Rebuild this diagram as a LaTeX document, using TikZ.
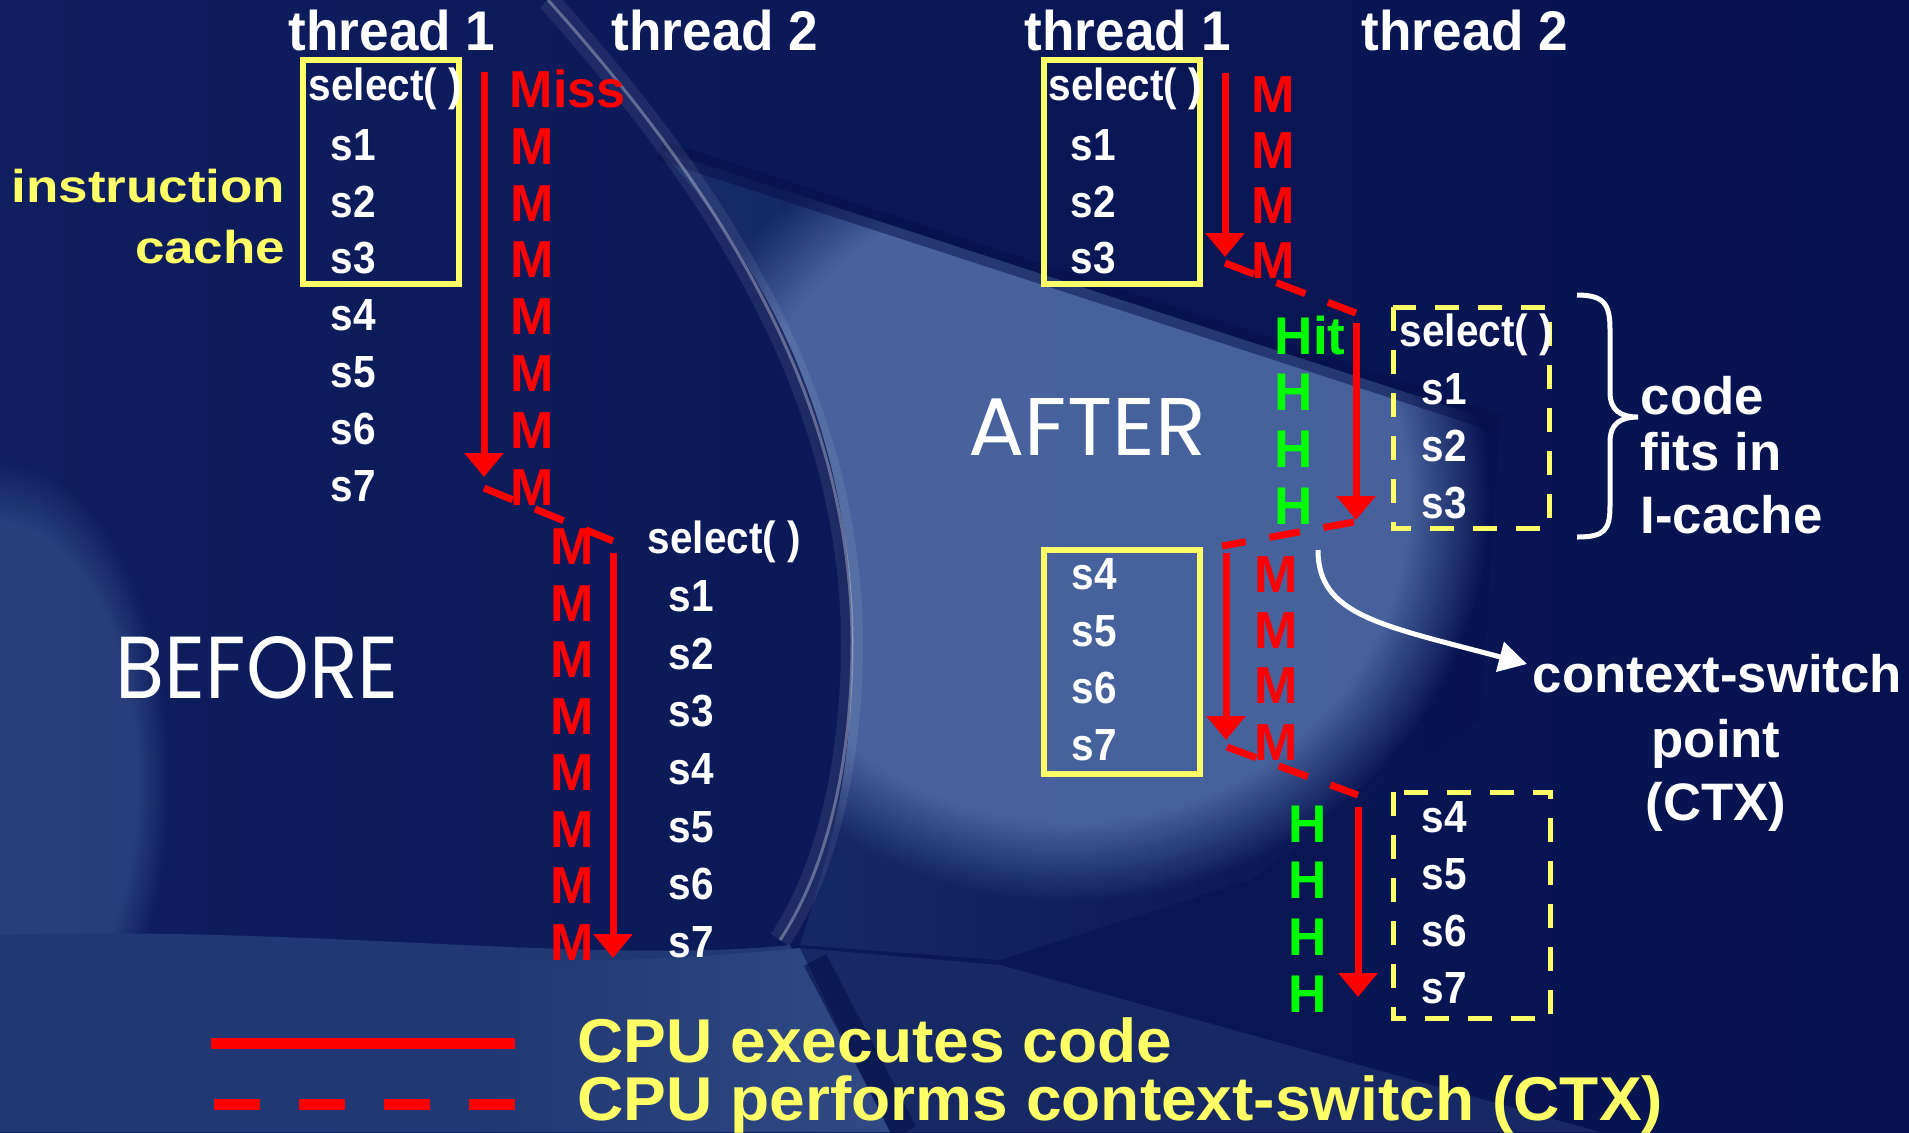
\documentclass[tikz,border=0pt]{standalone}
\usepackage{fontspec}
\usepackage{graphicx}
\setmainfont{Liberation Sans}
\newfontfamily\comicf{Poppins}
\usetikzlibrary{arrows.meta,fadings}
\definecolor{bgL}{HTML}{0E1E5E}
\definecolor{bgR}{HTML}{061250}
\definecolor{lightB}{HTML}{4A66A0}
\definecolor{midB}{HTML}{203874}
\definecolor{slabB}{HTML}{2F4A84}
\definecolor{darkB}{HTML}{061048}
\definecolor{ylw}{HTML}{FFFF66}
\definecolor{rd}{HTML}{FF0000}
\definecolor{grn}{HTML}{00FF00}
\newcommand\stS[1]{\scalebox{0.9}[1]{#1}}
\newcommand\thS[1]{\scalebox{0.95}[1]{#1}}
\newcommand\icS[1]{\scalebox{1.15}[1]{#1}}
\newcommand\lgS[1]{\scalebox{1.035}[1]{#1}}
\begin{document}
\begin{tikzpicture}[x=0.01cm,y=-0.01cm,
  thr/.style={font=\fontsize{15.9}{18}\selectfont\bfseries,text=white,inner sep=0pt,anchor=base},
  stm/.style={font=\fontsize{12.8}{15}\selectfont\bfseries,text=white,inner sep=0pt,anchor=base west},
  mis/.style={font=\fontsize{14.8}{17}\selectfont\bfseries,text=rd,inner sep=0pt,anchor=base west},
  hit/.style={font=\fontsize{15.1}{17}\selectfont\bfseries,text=grn,inner sep=0pt,anchor=base west},
  note/.style={font=\fontsize{15.0}{17}\selectfont\bfseries,text=white,inner sep=0pt},
  yl/.style={font=\fontsize{13.1}{15}\selectfont\bfseries,text=ylw,inner sep=0pt,anchor=base east},
  leg/.style={font=\fontsize{17.6}{20}\selectfont\bfseries,text=ylw,inner sep=0pt,anchor=base west},
  big/.style={text=white,inner sep=0pt,anchor=base west},
  exe/.style={draw=rd,line width=0.07cm,-{Triangle[width=0.38cm,length=0.24cm]}},
  ctx/.style={draw=rd,line width=0.07cm,dash pattern=on 0.31cm off 0.24cm},
  cachebox/.style={draw=ylw,line width=0.06cm},
  dcachebox/.style={draw=ylw,line width=0.05cm,dash pattern=on 0.24cm off 0.19cm},
]
% ---------- background ----------
\useasboundingbox (0,0) rectangle (1909,1132);
\shade[left color=bgL,right color=bgR] (0,0) rectangle (1909,1132);
\fill[lightB,fill opacity=0.45,path fading=circle with fuzzy edge 20 percent] (0,780) ellipse (170 and 320);
\fill[midB] (0,935) .. controls (300,925) and (600,965) .. (790,945) -- (880,1132) -- (0,1132) -- cycle;
\shade[left color=midB,right color=slabB] (520,960) .. controls (650,962) and (720,955) .. (800,948) -- (890,1132) -- (480,1132) -- cycle;
\fill[midB!60!bgR] (800,948) -- (1000,965) -- (1600,1132) -- (890,1132) -- cycle;
\draw[darkB,line width=0.25cm,opacity=0.6] (815,960) -- (905,1132);
\shade[left color=midB!55!bgL,right color=bgR] (660,150) -- (1500,423) -- (1480,720) -- (1250,880) -- (1000,960) -- (800,945) .. controls (840,820) and (852,760) .. (852,640) .. controls (852,450) and (780,280) .. (660,150) -- cycle;
\begin{scope}
\clip (660,150) -- (1500,423) -- (1480,720) -- (1250,880) -- (1000,960) -- (800,945) .. controls (840,820) and (852,760) .. (852,640) .. controls (852,450) and (780,280) .. (660,150) -- cycle;
\fill[lightB,fill opacity=0.95,path fading=circle with fuzzy edge 20 percent] (1070,500) ellipse (420 and 400);
\end{scope}
\draw[darkB,opacity=0.5,line width=0.2cm] (660,150) -- (1500,423);
\draw[white,opacity=0.08,line width=0.22cm] (548,0) .. controls (700,170) and (850,380) .. (852,640) .. controls (852,780) and (820,880) .. (780,940);
\draw[white,opacity=0.3,line width=0.03cm] (548,0) .. controls (700,170) and (850,380) .. (852,640) .. controls (852,780) and (820,880) .. (780,940);

% ---------- BEFORE ----------
\node[thr] (t1L) at (392,50) {\thS{thread 1}};
\node[thr] (t2L) at (715,50) {\thS{thread 2}};
\draw[cachebox] (303,60) rectangle (459,284);
\node[yl] (instr) at (286,202) {\icS{instruction}};
\node[yl] (cacheL) at (286,263) {\icS{cache}};
\node[stm] (selA) at (308,100) {\stS{select( )}};
\foreach \t/\y in {1/160,2/217,3/273,4/330,5/387,6/444,7/501}
  \node[stm] (sA\t) at (330,\y) {\stS{s\t}};
\node[mis] (miss) at (509,107) {Miss};
\foreach \y [count=\i] in {164,221,277,334,391,448,505}
  \node[mis] (mA\i) at (510,\y) {M};
\coordinate (a1s) at (484,72);
\coordinate (a1e) at (484,477);
\coordinate (d1s) at (484,488);
\coordinate (d1e) at (613,541);
\coordinate (a2s) at (613,553);
\coordinate (a2e) at (613,958);
\draw[exe] (a1s) -- (a1e);
\draw[ctx] (d1s) -- (d1e);
\draw[exe] (a2s) -- (a2e);
\foreach \y [count=\i] in {564,621,677,734,790,847,903,960}
  \node[mis] (mB\i) at (550,\y) {M};
\node[stm] (selB) at (647,553) {\stS{select( )}};
\foreach \t/\y in {1/611,2/669,3/726,4/784,5/842,6/899,7/957}
  \node[stm] (sB\t) at (668,\y) {\stS{s\t}};
\node[big] (before) at (115,698) {\resizebox{2.83cm}{0.62cm}{\comicf BEFORE}};

% ---------- AFTER ----------
\node[thr] (t1R) at (1128,50) {\thS{thread 1}};
\node[thr] (t2R) at (1465,50) {\thS{thread 2}};
\draw[cachebox] (1044,60) rectangle (1200,284);
\node[stm] (selC) at (1048,100) {\stS{select( )}};
\foreach \t/\y in {1/160,2/217,3/273}
  \node[stm] (sC\t) at (1070,\y) {\stS{s\t}};
\coordinate (a3s) at (1225,73);
\coordinate (a3e) at (1225,257);
\draw[exe] (a3s) -- (a3e);
\foreach \y [count=\i] in {112,168,223,278}
  \node[mis] (mC\i) at (1251,\y) {M};
\coordinate (d3s) at (1225,263);
\coordinate (d3e) at (1356,313);
\draw[ctx] (d3s) -- (d3e);
\coordinate (a4s) at (1356,323);
\coordinate (a4e) at (1356,520);
\draw[exe] (a4s) -- (a4e);
\node[hit] (hitD) at (1274,354) {Hit};
\foreach \y [count=\i] in {410,467,524}
  \node[hit] (hD\i) at (1274,\y) {H};
\draw[dcachebox] (1393,307) rectangle (1549,528);
\node[stm] (selD) at (1399,346) {\stS{select( )}};
\foreach \t/\y in {1/404,2/461,3/518}
  \node[stm] (sD\t) at (1421,\y) {\stS{s\t}};
\draw[white,line width=0.05cm] (1577,295) .. controls (1605,295) and (1610,305) .. (1610,330) -- (1610,392) .. controls (1610,410) and (1620,417) .. (1638,417) .. controls (1620,417) and (1610,424) .. (1610,442) -- (1610,505) .. controls (1610,530) and (1605,537) .. (1577,537);
\node[note,anchor=base west] (code) at (1640,414) {code};
\node[note,anchor=base west] (fits) at (1640,470) {fits in};
\node[note,anchor=base west] (icache) at (1640,533) {I-cache};
\node[big] (after) at (968,455) {\resizebox{2.37cm}{0.57cm}{\comicf AFTER}};
\coordinate (d4s) at (1354,522);
\coordinate (d4e) at (1222,546);
\draw[ctx] (d4s) -- (d4e);
\draw[cachebox] (1044,550) rectangle (1200,774);
\foreach \t/\y in {4/589,5/646,6/703,7/760}
  \node[stm] (sE\t) at (1071,\y) {\stS{s\t}};
\coordinate (a5s) at (1226,553);
\coordinate (a5e) at (1226,740);
\draw[exe] (a5s) -- (a5e);
\foreach \y [count=\i] in {592,648,703,760}
  \node[mis] (mE\i) at (1254,\y) {M};
\coordinate (d5s) at (1227,747);
\coordinate (d5e) at (1358,795);
\draw[ctx] (d5s) -- (d5e);
\coordinate (a6s) at (1358,807);
\coordinate (a6e) at (1358,997);
\draw[exe] (a6s) -- (a6e);
\foreach \y [count=\i] in {842,898,955,1012}
  \node[hit] (hF\i) at (1288,\y) {H};
\draw[dcachebox] (1393,792) rectangle (1550,1018);
\foreach \t/\y in {4/832,5/889,6/946,7/1003}
  \node[stm] (sF\t) at (1421,\y) {\stS{s\t}};
\coordinate (ctxs) at (1318,550);
\node[note,anchor=base west] (cs) at (1532,692) {context-switch};
\node[note,anchor=base] (pt) at (1716,757) {point};
\node[note,anchor=base] (ctxl) at (1716,820) {(CTX)};
\coordinate (ctxe) at (1527,664);
\draw[white,line width=0.05cm,-{Triangle[width=0.3cm,length=0.28cm]}] (ctxs) .. controls (1318,615) and (1380,625) .. (ctxe);

% ---------- legend ----------
\coordinate (l1s) at (211,1043);
\coordinate (l1e) at (515,1043);
\coordinate (l2s) at (214,1104);
\coordinate (l2e) at (515,1104);
\draw[rd,line width=0.11cm] (l1s) -- (l1e);
\draw[rd,line width=0.11cm,dash pattern=on 0.46cm off 0.39cm] (l2s) -- (l2e);
\node[leg] (leg1) at (577,1062) {\lgS{CPU executes code}};
\node[leg] (leg2) at (577,1120) {\lgS{CPU performs context-switch (CTX)}};
\end{tikzpicture}
\end{document}
